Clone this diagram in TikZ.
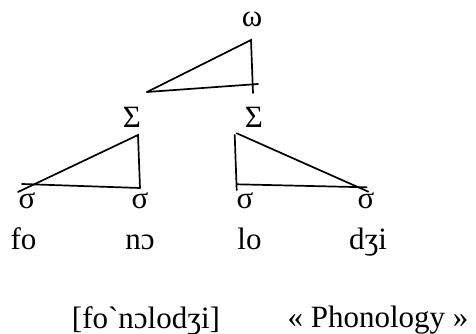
\documentclass[tikz,border=0pt]{standalone}
\usepackage{fontspec}
\setmainfont{Liberation Serif}[Ligatures=TeXOff]
\usetikzlibrary{positioning}

\tikzset{
    label/.style={font=\fontsize{31}{33}\selectfont, inner sep=0pt, anchor=base},
    branch/.style={line width=1.7pt, line cap=round}
}

\begin{document}
\begin{tikzpicture}[x=1pt, y=-1pt]
        \useasboundingbox (0,0) rectangle (476,334);

        % Labels of the prosodic tree
        \node [label] (word) at (252,27) {ω};
        \node [label] (foot1) at (132,128) {Σ};
        \node [label] (foot2) at (254,128) {Σ};
        \foreach \name/\x in {syl1/27, syl2/140, syl3/245, syl4/366}
        {
        \node [label] (\name) at (\x,208) {σ};
        }

        % Syllables under the tree
        \node [label] (seg1) at (23.5,249) {fo};
        \node [label] (seg2) at (140,249) {nɔ};
        \node [label] (seg3) at (249.5,249) {lo};
        \node [label] (seg4) at (368,249) {dʒi};

        % Transcription and gloss
        \node [label] (ipa) at (146,328) {[fo`nɔlodʒi]};
        \node [label] (gloss) at (378,327) {« Phonology »};

        % Corners of the triangles
        \coordinate (wTop) at (251,40);
        \coordinate (wLeft) at (147,92);
        \coordinate (wFoot) at (253,93);
        \coordinate (wRight) at (258,84);

        \coordinate (fTop) at (138,135);
        \coordinate (fLeft) at (18,192);
        \coordinate (fBase) at (22,184);
        \coordinate (fRight) at (140,188);

        \coordinate (gTop) at (234.7,135);
        \coordinate (gApex) at (236.7,133.3);
        \coordinate (gFoot) at (236.7,190);
        \coordinate (gBase) at (236.7,184.3);
        \coordinate (gRight) at (368.3,191.7);
        \coordinate (gEnd) at (366.7,187.3);

        % Drawing the triangles
        \draw [branch] (wLeft) -- (wTop) -- (wFoot);
        \draw [branch] (wLeft) -- (wRight);

        \draw [branch] (fLeft) -- (fTop) -- (fRight);
        \draw [branch] (fBase) -- (fRight);

        \draw [branch] (gTop) -- (gFoot);
        \draw [branch] (gApex) -- (gRight);
        \draw [branch] (gBase) -- (gEnd);
\end{tikzpicture}
\end{document}
